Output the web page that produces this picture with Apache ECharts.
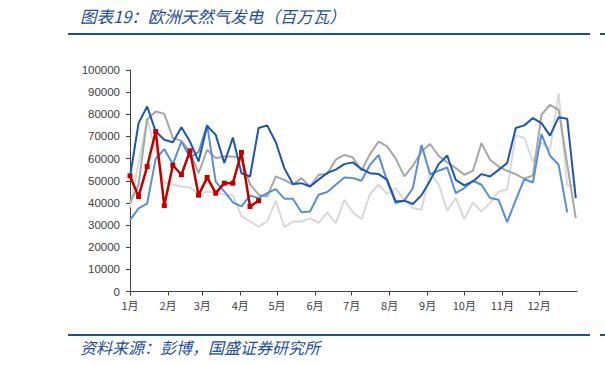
<!DOCTYPE html>
<html><head><meta charset="utf-8">
<script src="https://cdn.jsdelivr.net/npm/echarts@6/dist/echarts.min.js"></script>
<style>html,body{margin:0;padding:0;background:#fff}#c{width:605px;height:365px}</style>
</head><body><div id="c"></div>
<script>
const titleText = '图表19：欧洲天然气发电（百万瓦）';
const sourceText = '资料来源：彭博，国盛证券研究所';
const monthLabels = ['1月','2月','3月','4月','5月','6月','7月','8月','9月','10月','11月','12月'];
const monthStartDays = [0,31,59,90,120,151,181,212,243,273,304,334];
const daysPerWeek = 7;

const seriesNames = ['2019','2020','2021','2022','2023'];
const lightGray = [38000,58000,78000,63500,49300,48300,47400,47000,44000,45100,
  44700,43800,43500,34000,31600,29300,31600,41000,29100,31600,
  31600,33000,31000,35600,30800,41400,35700,32700,44000,48200,
  44000,46700,41400,37700,36900,53400,48500,36500,42200,32800,
  40200,36100,39900,45100,46200,70600,69300,58500,67300,64300,
  89600,47800,48000];
const midGray = [39900,48200,77800,81300,80200,69300,68000,63000,53400,64000,
  60200,61000,61000,59900,48500,43700,42900,51900,50400,48200,
  51200,47400,52700,53100,59500,61700,60500,54600,62000,67700,
  65500,60000,52000,56800,63200,66600,61300,58300,55700,52700,
  54500,67000,59500,56400,54500,53000,50900,52400,79800,84300,
  82000,57500,33100];
const lightBlue = [32200,37500,39700,60000,64300,57500,67700,60500,63000,75300,
  49500,45200,40200,38400,43300,42200,44400,46200,41900,41900,
  35800,36100,43700,44900,48200,51500,51200,50000,57200,61700,
  49700,39900,41000,46700,66200,53000,54500,56000,44400,46700,
  50000,48200,42200,41400,31300,41400,50700,49200,71100,61300,
  57200,35700,null];
const darkBlue = [51700,76000,83500,72200,68500,67400,74200,67700,58700,74800,
  70700,58000,69500,53400,51900,73800,75000,67500,55700,48500,
  48900,47400,50500,53500,55000,57500,58300,55300,53400,53000,
  50400,40600,41000,39500,43500,50000,57500,61400,50400,47900,
  49700,53000,51900,54900,58000,73800,75000,78300,76000,70400,
  78700,78000,42200];
const red = [52200,42900,56400,72200,38800,57000,52700,63500,43500,51500,44400,48900,48900,62800,38400,41000];

const yTicks = {min: 0, max: 100000, interval: 10000};

function toPairs(arr){ return arr.map((v,i)=>[i*daysPerWeek, v]); }

const chart = echarts.init(document.getElementById('c'), null, {renderer:'svg'});
const blue = '#1F4E9A';
const lineSeries = (name, data, color, width, z) => ({
  name, type:'line', data: toPairs(data), symbol:'none', z,
  lineStyle:{color, width}, itemStyle:{color}, connectNulls:false, animation:false
});
chart.setOption({
  animation:false,
  grid:{left:130, right:28, top:70, bottom:73.5},
  xAxis:{type:'value', min:0, max:365,
    axisLine:{lineStyle:{color:'#404040', width:1}},
    axisTick:{customValues: monthStartDays, length:4, lineStyle:{color:'#404040'}},
    axisLabel:{customValues: monthStartDays, margin:8, color:'#404040', fontSize:11,
      fontFamily:'"Noto Sans CJK SC", "Liberation Sans", sans-serif',
      formatter: v => monthLabels[monthStartDays.indexOf(Math.round(v))] || ''},
    splitLine:{show:false}},
  yAxis:{type:'value', min:yTicks.min, max:yTicks.max, interval:yTicks.interval,
    axisLine:{show:true, lineStyle:{color:'#404040', width:1}},
    axisTick:{show:true, length:4, lineStyle:{color:'#404040'}},
    axisLabel:{color:'#404040', fontSize:11.5, margin:10, fontFamily:'"Liberation Sans", Arial, sans-serif',
      formatter: v => String(v)},
    splitLine:{show:false}},
  series:[
    lineSeries(seriesNames[0], lightGray, '#D9D9D9', 2, 1),
    lineSeries(seriesNames[1], midGray, '#A6A6A6', 2, 2),
    lineSeries(seriesNames[2], lightBlue, '#5B8FD3', 2, 3),
    lineSeries(seriesNames[3], darkBlue, '#1F56A8', 2, 4),
    {name: seriesNames[4], type:'line', data: toPairs(red), z:5,
      symbol:'rect', symbolSize:5, showSymbol:true,
      lineStyle:{color:'#C00000', width:2.5}, itemStyle:{color:'#C00000'}}
  ],
  graphic:[
    {type:'text', left:80, top:8, style:{text:titleText, fill:blue,
      font:'italic 16.5px "Noto Sans CJK SC", sans-serif'}},
    {type:'line', shape:{x1:68, y1:34, x2:590, y2:34}, style:{stroke:blue, lineWidth:2}},
    {type:'line', shape:{x1:600, y1:34, x2:605, y2:34}, style:{stroke:blue, lineWidth:2}},
    {type:'line', shape:{x1:68, y1:335, x2:590, y2:335}, style:{stroke:blue, lineWidth:2}},
    {type:'line', shape:{x1:600, y1:335, x2:605, y2:335}, style:{stroke:blue, lineWidth:2}},
    {type:'text', left:80, top:339, style:{text:sourceText, fill:blue,
      font:'italic 16px "Noto Sans CJK SC", sans-serif'}}
  ]
});
</script></body></html>
